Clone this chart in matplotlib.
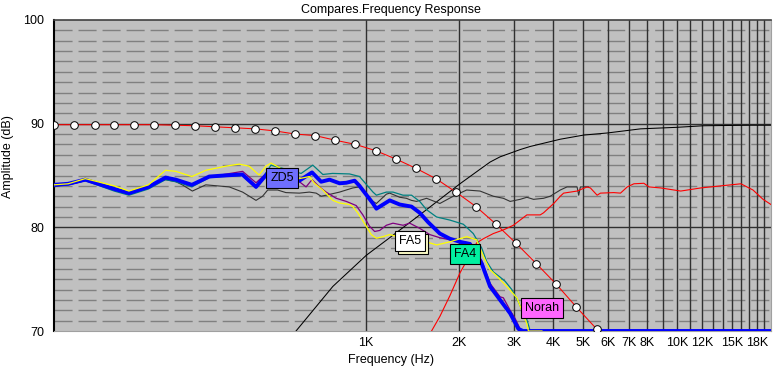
import matplotlib
matplotlib.use("Agg")
import matplotlib.pyplot as plt
from matplotlib.patches import Rectangle
from matplotlib.ticker import NullLocator

plt.rcParams['font.family'] = ['Liberation Sans', 'DejaVu Sans']
plt.rcParams['lines.scale_dashes'] = False

# ZD5 (blue, thick)
zd5_f = [100, 111, 126, 156, 174, 201, 228, 246, 277, 315, 351, 402, 445, 484, 613, 673, 720, 766, 825, 867,
         922, 956, 1056, 1083, 1110, 1195, 1287, 1404, 1492, 1587, 1731, 1864, 2008, 2162, 2359, 2508, 2701, 2910,
         3094, 3200, 20000]
zd5_db = [84.1, 84.2, 84.6, 83.7, 83.3, 83.9, 84.8, 84.6, 84.1, 84.9, 85.0, 85.1, 83.9, 85.2, 84.5, 85.3, 84.4, 84.6,
          84.25, 84.3, 84.5, 84.0, 82.3, 81.8, 82.0, 82.6, 82.2, 82.0, 81.4, 80.5, 79.4, 78.9, 78.6, 78.4, 76.5, 74.3,
          73.0, 71.7, 70.2, 70.0, 70.0]

# FA4 (teal)
fa4_f = [100, 111, 126, 156, 174, 201, 228, 246, 277, 315, 351, 402, 445, 497, 621, 677, 729, 783, 888, 956,
         1056, 1083, 1166, 1224, 1319, 1404, 1492, 1569, 1689, 1864, 2058, 2216, 2359, 2447, 2570, 2701, 2804, 2946,
         3094, 3211, 3293, 3374]
fa4_db = [84.0, 84.1, 84.5, 83.5, 83.1, 83.7, 84.6, 84.4, 83.9, 84.8, 84.9, 85.0, 83.8, 86.0, 85.2, 86.0, 85.1, 85.2,
          85.15, 84.9, 83.4, 83.1, 83.4, 83.4, 83.1, 83.1, 82.5, 81.7, 81.0, 80.7, 80.3, 79.4, 78.0, 76.7, 75.7, 75.2,
          74.8, 74.0, 72.8, 71.7, 71.1, 70.0]

# FA5 (yellow)
fa5_f = [100, 111, 126, 156, 174, 201, 228, 246, 277, 307, 356, 393, 423, 455, 479, 497, 613, 660, 685, 729,
         785, 825, 888, 910, 944, 1005, 1043, 1083, 1137, 1195, 1400, 1569, 1689, 1864, 2110, 2272, 2387, 2508,
         2636, 2839, 3058, 3172, 3293, 3331, 3680]
fa5_db = [84.1, 84.2, 84.7, 84.0, 83.5, 84.1, 85.5, 85.4, 84.9, 85.5, 85.9, 86.1, 85.9, 85.05, 85.9, 86.2, 84.7, 84.9,
          84.25, 83.6, 82.6, 82.35, 82.2, 82.0, 81.4, 80.1, 79.3, 78.95, 79.1, 79.3, 78.8, 78.6, 78.3, 78.6, 79.1,
          78.8, 77.2, 75.9, 75.3, 74.3, 73.2, 72.0, 70.7, 70.0, 70.0]

# Norah (purple)
norah_f = [100, 111, 126, 156, 174, 201, 228, 246, 277, 315, 351, 403, 445, 484, 613, 644, 673, 711, 747, 805,
           867, 933, 980, 1030, 1069, 1110, 1166, 1224, 1319, 1386, 1492, 1607, 1731, 1864, 2008, 2162, 2359, 2508,
           2701, 2768, 2910, 3019, 3133, 3200]
norah_db = [84.0, 84.1, 84.5, 83.7, 83.2, 83.8, 84.8, 84.6, 84.0, 84.9, 85.1, 85.4, 84.3, 85.3, 84.4, 83.9, 84.6,
            83.9, 83.4, 82.8, 82.5, 82.1, 81.2, 80.1, 79.6, 79.7, 80.2, 80.4, 80.2, 80.4, 79.9, 79.3, 79.0, 78.8,
            78.6, 78.5, 76.8, 74.6, 73.3, 73.2, 72.0, 71.2, 70.2, 70.0]

# dark grey curve
grey_f = [100, 126, 174, 228, 246, 258, 278, 307, 365, 403, 445, 467, 485, 522, 555, 613, 660, 694, 720, 747,
          825, 910, 956, 1056, 1083, 1166, 1195, 1287, 1352, 1404, 1457, 1569, 1731, 1911, 2110, 2329, 2570, 2768,
          2910, 3133, 3293, 3458, 3724, 3913, 4061, 4215, 4430, 4772, 4829, 4890, 5188]
grey_db = [83.9, 84.6, 83.3, 84.6, 84.4, 84.1, 83.5, 84.1, 83.9, 83.4, 82.6, 83.0, 83.6, 83.6, 83.35, 83.3, 83.4,
           83.3, 83.0, 83.1, 83.4, 83.8, 83.9, 82.5, 82.3, 83.2, 83.3, 82.9, 82.8, 82.6, 82.5, 82.8, 82.3, 83.0,
           83.6, 83.5, 83.0, 82.8, 82.5, 82.7, 82.9, 82.7, 82.8, 83.0, 83.3, 83.6, 83.9, 83.9, 83.1, 83.9, 83.9]

# red tweeter curve
red_f = [1628, 1731, 1864, 2008, 2272, 2387, 2570, 2768, 2980, 3133, 3293, 3634, 3724, 4015, 4215, 4320, 4772,
         5138, 5265, 5534, 5671, 6258, 6577, 6914, 7260, 7818, 8115, 8850, 10264, 11903, 13808, 16014, 17508,
         18860, 20000]
red_db = [70.0, 71.4, 73.4, 75.6, 78.5, 78.9, 79.4, 79.75, 80.2, 80.7, 81.2, 81.2, 81.4, 82.3, 83.0, 83.3, 83.5,
          83.9, 83.8, 83.1, 83.3, 83.35, 83.3, 83.9, 84.2, 84.25, 83.9, 83.8, 83.5, 83.8, 84.0, 84.2, 83.6, 82.7,
          82.2]

# high-pass filter (black)
hp_f = [598, 785, 1005, 1195, 1492, 1731, 2008, 2329, 2510, 2701, 3133, 3374, 4215, 5010, 5960, 7627, 10000,
        12170, 17250, 20000]
hp_db = [70.0, 74.3, 77.3, 79.0, 81.2, 82.7, 84.2, 85.6, 86.3, 86.8, 87.5, 87.8, 88.5, 88.9, 89.1, 89.5, 89.65,
         89.8, 89.85, 89.85]

# low-pass filter (red with markers)
lp_f = [100, 116, 135, 156, 181, 210, 244, 283, 328, 381, 442, 512, 594, 689, 800, 928, 1076, 1249, 1449, 1680,
        1949, 2261, 2623, 3043, 3530, 4095, 4750, 5510]
lp_db = [89.9, 89.9, 89.9, 89.9, 89.9, 89.9, 89.85, 89.8, 89.7, 89.6, 89.5, 89.3, 89.0, 88.85, 88.4, 88.0, 87.4,
         86.6, 85.7, 84.7, 83.4, 82.0, 80.3, 78.45, 76.5, 74.5, 72.3, 70.2]

xticks = [1000, 2000, 3000, 4000, 5000, 6000, 7000, 8000, 10000, 12000, 15000, 18000]
xticklabels = ['1K', '2K', '3K', '4K', '5K', '6K', '7K', '8K', '10K', '12K', '15K', '18K']
yticks = [70, 80, 90, 100]

fig = plt.figure(figsize=(7.82, 3.71), dpi=100)
ax = fig.add_axes([54 / 782, 40 / 371, 717 / 782, 311 / 371])
ax.set_facecolor('#c0c0c0')
ax.set_xscale('log')
ax.set_xlim(100, 20000)
ax.set_ylim(70, 100)

# сетка
for v in range(71, 100):
    if v % 10:
        ax.axhline(v, color='#808080', lw=1.0, ls=(0, (13, 4.3)), zorder=1)
for v in (80, 90):
    ax.axhline(v, color='#303030', lw=1.0, zorder=1)
for k in range(1, 20):
    ax.axvline(k * 1000, color='#303030', lw=1.0, zorder=1)

ax.plot(hp_f, hp_db, color='black', lw=0.75, zorder=3)
ax.plot(grey_f, grey_db, color='#333333', lw=0.8, zorder=3)
ax.plot(red_f, red_db, color='#ff0000', lw=0.8, zorder=3)
ax.plot(norah_f, norah_db, color='#800080', lw=0.9, zorder=4)
ax.plot(fa4_f, fa4_db, color='#008080', lw=0.9, zorder=4)
ax.plot(zd5_f, zd5_db, color='#0000ff', lw=2.8, zorder=5)
ax.plot(fa5_f, fa5_db, color='#ffff00', lw=0.9, zorder=6)
ax.plot(lp_f, lp_db, color='#ff0000', lw=0.75, marker='o', ms=5.5, mfc='white', mec='black', mew=0.7,
        zorder=7)

# подписи кривых
lab_kw = dict(fontsize=9, ha='center', va='center', zorder=9)
box = 'square,pad=0.32'
ax.text(540, 84.8, 'ZD5', bbox=dict(boxstyle=box, fc='#6f6fff', ec='black', lw=0.8), **lab_kw)
fa5 = ax.text(1391, 78.7, 'FA5', bbox=dict(boxstyle=box, fc='white', ec='black', lw=0.8), **lab_kw)
ax.text(2084, 77.4, 'FA4', bbox=dict(boxstyle=box, fc='#00f0a0', ec='black', lw=0.8), **lab_kw)
ax.text(3688, 72.2, 'Norah', bbox=dict(boxstyle=box, fc='#ff66ff', ec='black', lw=0.8), **lab_kw)

ax.set_xticks(xticks)
ax.set_xticklabels(xticklabels)
ax.xaxis.set_minor_locator(NullLocator())
ax.set_yticks(yticks)
ax.tick_params(length=0, labelsize=9)
ax.tick_params(axis='x', pad=4)
ax.tick_params(axis='y', pad=7)

ax.spines['left'].set_color('black')
ax.spines['left'].set_linewidth(1.5)
ax.spines['top'].set_color('#404040')
ax.spines['top'].set_linewidth(1.2)
ax.spines['bottom'].set_color('#a0a0a0')
ax.spines['right'].set_color('#a0a0a0')

fig.text(0.5, 1 - 9.5 / 371, 'Compares.Frequency Response', ha='center', va='center', fontsize=9)
fig.text(0.5, 1 - 360 / 371, 'Frequency (Hz)', ha='center', va='center', fontsize=9)
fig.text(8 / 782, 1 - 157 / 371, 'Amplitude (dB)', ha='center', va='center', rotation=90, fontsize=9)

# тень под рамкой FA5
fig.canvas.draw()
bb = fa5.get_bbox_patch().get_window_extent()
ax.add_patch(Rectangle((bb.x0 + 3, bb.y0 - 3), bb.width, bb.height, transform=None,
                       fc='#ffffc8', ec='black', lw=0.8, zorder=8))

fig.savefig('out.png', dpi=100)
